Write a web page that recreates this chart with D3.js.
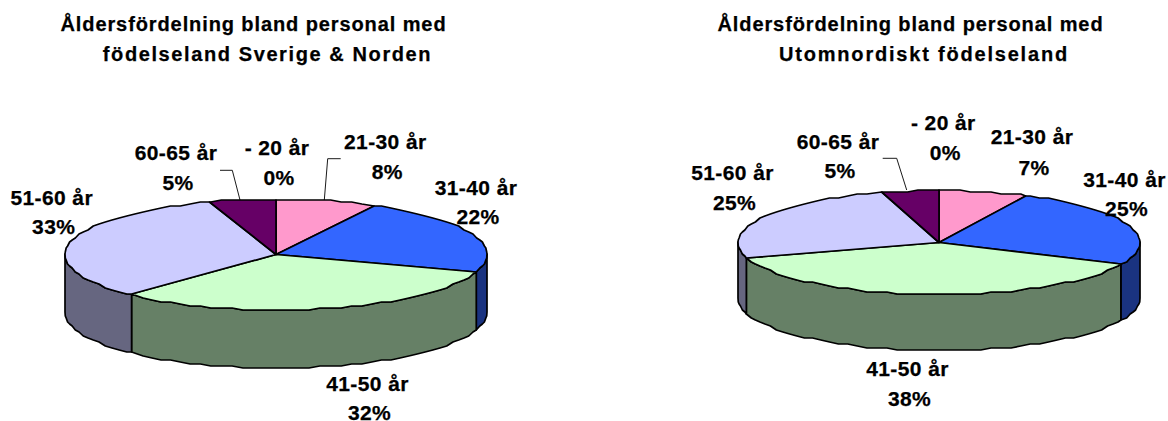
<!DOCTYPE html>
<html>
<head>
<meta charset="utf-8">
<style>
	html, body { margin: 0; padding: 0; background: #fff; }
	text { font-family: "Liberation Sans", Arial, sans-serif; font-weight: bold; fill: #000; stroke: #000; stroke-width: 0.25; text-anchor: middle; }
	.title { font-size: 20px; }
	.label { font-size: 21px; letter-spacing: 0.4px; }
	.leader { fill: none; stroke: #000; stroke-width: 0.9; }
	.slice { stroke: #000; stroke-width: 1.7; stroke-linejoin: round; }
</style>
</head>
<body>
<svg id="chart" width="1168" height="421" style="display:block"></svg>
<script src="https://cdn.jsdelivr.net/npm/d3@7"></script>
<script>
	var categories = ['- 20 år', '21-30 år', '31-40 år', '41-50 år', '51-60 år', '60-65 år'];
	var nordenValues = [0, 7.7, 22.4, 31.9, 32.9, 5.1];
	var utomValues = [0, 7.1, 24.9, 38.4, 25, 4.6];
	var nordenTitle = ['Åldersfördelning bland personal med', 'födelseland Sverige & Norden'];
	var utomTitle = ['Åldersfördelning bland personal med', 'Utomnordiskt födelseland'];

	var topColors = ['#ffffcc', '#ff99cc', '#3366ff', '#ccffcc', '#ccccff', '#660066'];
	var sideColors = ['#808066', '#804d66', '#1a3380', '#668066', '#666680', '#330033'];

	// layout of the two pies, label centres are [x, y first line, y second line]
	var nordenLayout = {
		cx: 276, cy: 254.5, rx: 211, ry: 55.5, depth: 58,
		titleX: [253.5, 267.5], titleSpacing: [0.9, 1.6],
		labels: [[277, 147.7, 178.3], [385.3, 141.7, 171.7], [476, 187.7, 217.3], [367.5, 384, 412.5], [51.7, 197.7, 227.3], [176, 153.3, 183.3]],
		leaders: [[[324.3, 200], [327.7, 158.7], [340.7, 158.7]], [[240, 200], [232.3, 170.3], [220, 170.3]]]
	};
	var utomLayout = {
		cx: 939, cy: 242.5, rx: 201, ry: 52, depth: 56,
		titleX: [910.5, 924], titleSpacing: [0.9, 1.8],
		labels: [[943.3, 123.3, 153.3], [1032, 137.3, 167.7], [1124.5, 180, 209.3], [907.5, 369.3, 399], [732.5, 173.3, 203.3], [838, 141.7, 171.3]],
		leaders: [[[906.7, 190], [896.7, 158.3], [882.7, 158.3]]]
	};

	var svg = d3.select('#chart');
	var pie = d3.pie().sort(null).value(function(d) { return d; });
	var step = Math.PI / 60;
	var grid = 2; //the rim of the original is a rough polygon

	function angles(a0, a1) {
		var out = [a0];
		var a = (Math.floor(a0 / step) + 1) * step;
		for (; a < a1 - step / 2; a += step) { out.push(a); }
		out.push(a1);
		return out;
	}

	function drawPie(values, titleLines, layout) {
		var g = svg.append('g');
		var x = d3.scaleLinear().domain([-1, 1]).range([layout.cx - layout.rx, layout.cx + layout.rx]);
		var y = d3.scaleLinear().domain([-1, 1]).range([layout.cy + layout.ry, layout.cy - layout.ry]);
		var line = d3.line();

		function rim(as, drop) {
			return as.map(function(a) {
				return [x(Math.sin(a)), Math.round(y(Math.cos(a)) / grid) * grid + drop];
			});
		}

		var arcs = pie(values);

		// walls of the front half first, the top faces go over them
		arcs.forEach(function(d, i) {
			var a0 = Math.max(d.startAngle, Math.PI / 2);
			var a1 = Math.min(d.endAngle, Math.PI * 3 / 2);
			if (a1 <= a0) return;
			var as = angles(a0, a1);
			var pts = rim(as, 0).concat(rim(as.slice().reverse(), layout.depth));
			g.append('path')
				.attr('class', 'slice')
				.attr('fill', sideColors[i])
				.attr('d', line(pts) + 'Z');
		});

		arcs.forEach(function(d, i) {
			if (d.endAngle - d.startAngle <= 0) return;
			var pts = rim(angles(d.startAngle, d.endAngle), 0);
			pts.push([x(0), y(0)]);
			g.append('path')
				.attr('class', 'slice')
				.attr('fill', topColors[i])
				.attr('d', line(pts) + 'Z');
		});

		layout.leaders.forEach(function(pts) {
			g.append('path').attr('class', 'leader').attr('d', line(pts));
		});

		titleLines.forEach(function(t, i) {
			g.append('text').attr('class', 'title')
				.attr('x', layout.titleX[i]).attr('y', 31 + i * 30)
				.style('letter-spacing', layout.titleSpacing[i] + 'px')
				.text(t);
		});

		categories.forEach(function(c, i) {
			var pos = layout.labels[i];
			g.append('text').attr('class', 'label')
				.attr('x', pos[0]).attr('y', pos[1] + 7).text(c);
			g.append('text').attr('class', 'label')
				.attr('x', pos[0] + 2).attr('y', pos[2] + 7).text(d3.format('.0f')(values[i]) + '%');
		});
	}

	drawPie(nordenValues, nordenTitle, nordenLayout);
	drawPie(utomValues, utomTitle, utomLayout);
</script>
</body>
</html>
